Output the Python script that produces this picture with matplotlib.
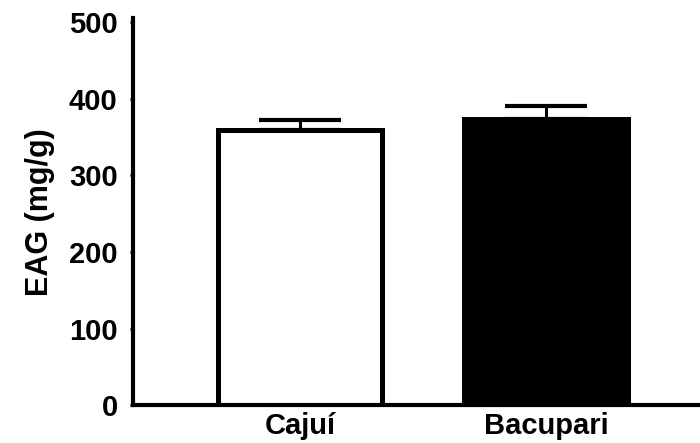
import matplotlib.pyplot as plt

plt.rcParams['font.family'] = ['Liberation Sans', 'DejaVu Sans']
plt.rcParams['font.weight'] = 'bold'

# EAG content of the two fruit extracts (mean and upper SD)
groups = ['Cajuí', 'Bacupari']
eag = [359, 373]
sd = [13, 17]
face = ['white', 'black']

fig = plt.figure(figsize=(7, 4.43), dpi=100)
ax = fig.add_axes([0.19, 0.0847, 0.81, 0.874])

x = list(range(len(groups)))
ax.bar(x, eag, width=0.67, color=face, edgecolor='black', linewidth=3.6, zorder=2)
ax.errorbar(x, eag, yerr=[[0] * len(sd), sd], fmt='none', ecolor='black',
            elinewidth=2.2, capsize=29.5, capthick=3, zorder=1)

ax.set_xlim(-0.679, 1.626)
ax.set_ylim(0, 505)
ax.set_yticks([0, 100, 200, 300, 400, 500])
ax.set_xticks(x)
ax.set_xticklabels(groups)

for s in ['top', 'right']:
    ax.spines[s].set_visible(False)
for s in ['left', 'bottom']:
    ax.spines[s].set_linewidth(3)

ax.tick_params(axis='y', length=2, width=2, pad=9, labelsize=21)
ax.tick_params(axis='x', length=0, pad=5, labelsize=21)
for lab in ax.get_xticklabels() + ax.get_yticklabels():
    lab.set_fontweight('bold')

ax.set_ylabel('EAG (mg/g)', fontsize=22, fontweight='bold', labelpad=10)

fig.savefig('out.png', dpi=100)
